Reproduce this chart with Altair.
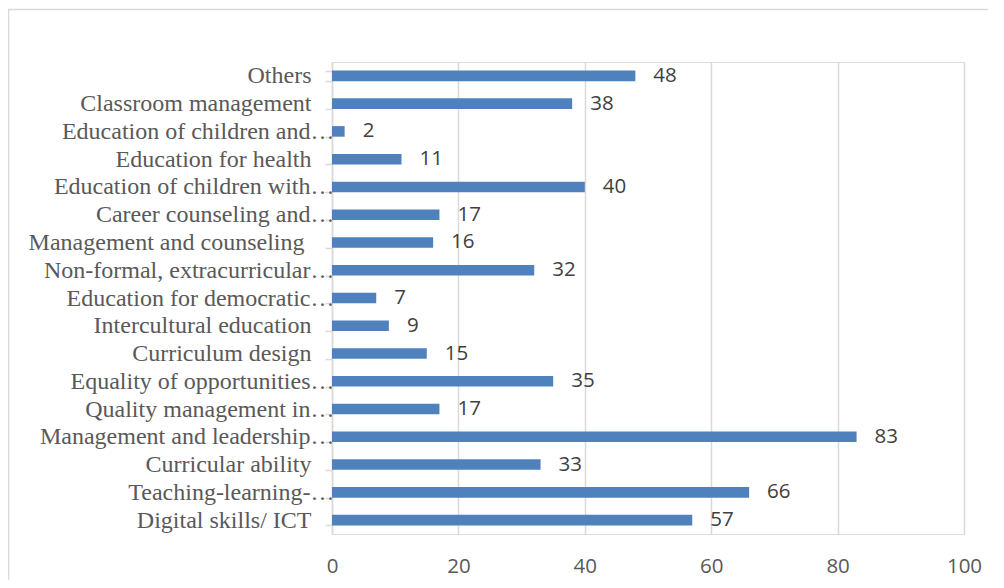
import altair as alt
import pandas as pd

categories = [
    "Others",
    "Classroom management",
    "Education of children and…",
    "Education for health",
    "Education of children with…",
    "Career counseling and…",
    "Management and counseling",
    "Non-formal, extracurricular…",
    "Education for democratic…",
    "Intercultural education",
    "Curriculum design",
    "Equality of opportunities…",
    "Quality management in…",
    "Management and leadership…",
    "Curricular ability",
    "Teaching-learning-…",
    "Digital skills/ ICT",
]
values = [48, 38, 2, 11, 40, 17, 16, 32, 7, 9, 15, 35, 17, 83, 33, 66, 57]
x_ticks = [0, 20, 40, 60, 80, 100]

df = pd.DataFrame({"category": categories, "value": values})

GRID = "#d9d9d9"

pad_expr = (
    "indexof(datum.label, '…') >= 0 ? -9 : "
    "(datum.label == 'Management and counseling' ? 21 : 14)"
)

y_enc = alt.Y(
    "category:N",
    sort=categories,
    scale=alt.Scale(paddingInner=0.62, paddingOuter=0.31),
    axis=alt.Axis(
        title=None,
        domainColor=GRID,
        domainWidth=1.5,
        tickColor=GRID,
        tickWidth=1.5,
        tickSize=7,
        tickBand="extent",
        labelFont="Liberation Serif",
        labelFontSize=24,
        labelColor="#595959",
        labelPadding=alt.ExprRef(pad_expr),
        labelLimit=400,
    ),
)

x_enc = alt.X(
    "value:Q",
    scale=alt.Scale(domain=[0, 100], nice=False),
    axis=alt.Axis(
        title=None,
        values=x_ticks,
        domain=False,
        ticks=False,
        tickSize=0,
        grid=True,
        gridColor=GRID,
        gridWidth=1.5,
        labelFont="Open Sans",
        labelFontSize=20.5,
        labelColor="#595959",
        labelPadding=22,
        labelFlush=False,
    ),
)

base = alt.Chart(df)

bars = base.mark_bar(color="#4F81BD").encode(y=y_enc, x=x_enc)

labels = base.mark_text(
    align="left",
    baseline="middle",
    dx=18,
    font="Open Sans",
    fontSize=20.5,
    color="#404040",
).encode(y=alt.Y("category:N", sort=categories), x="value:Q", text="value:Q")

frame = alt.Chart(pd.DataFrame({"f": [0]})).mark_rect(
    fill=None, stroke=GRID, strokeWidth=1.5
).encode(
    x=alt.value(-323.5),
    y=alt.value(-52.5),
    x2=alt.value(720),
    y2=alt.value(600),
)

chart = (
    alt.layer(frame, bars, labels)
    .properties(
        width=632,
        height=472,
        autosize=alt.AutoSizeParams(type="none"),
        padding={"left": 324, "top": 54, "right": 24, "bottom": 46},
    )
    .configure_view(stroke=None)
    .configure(background="white")
)

chart.save("out.html", embed_options={"renderer": "svg", "actions": False})
